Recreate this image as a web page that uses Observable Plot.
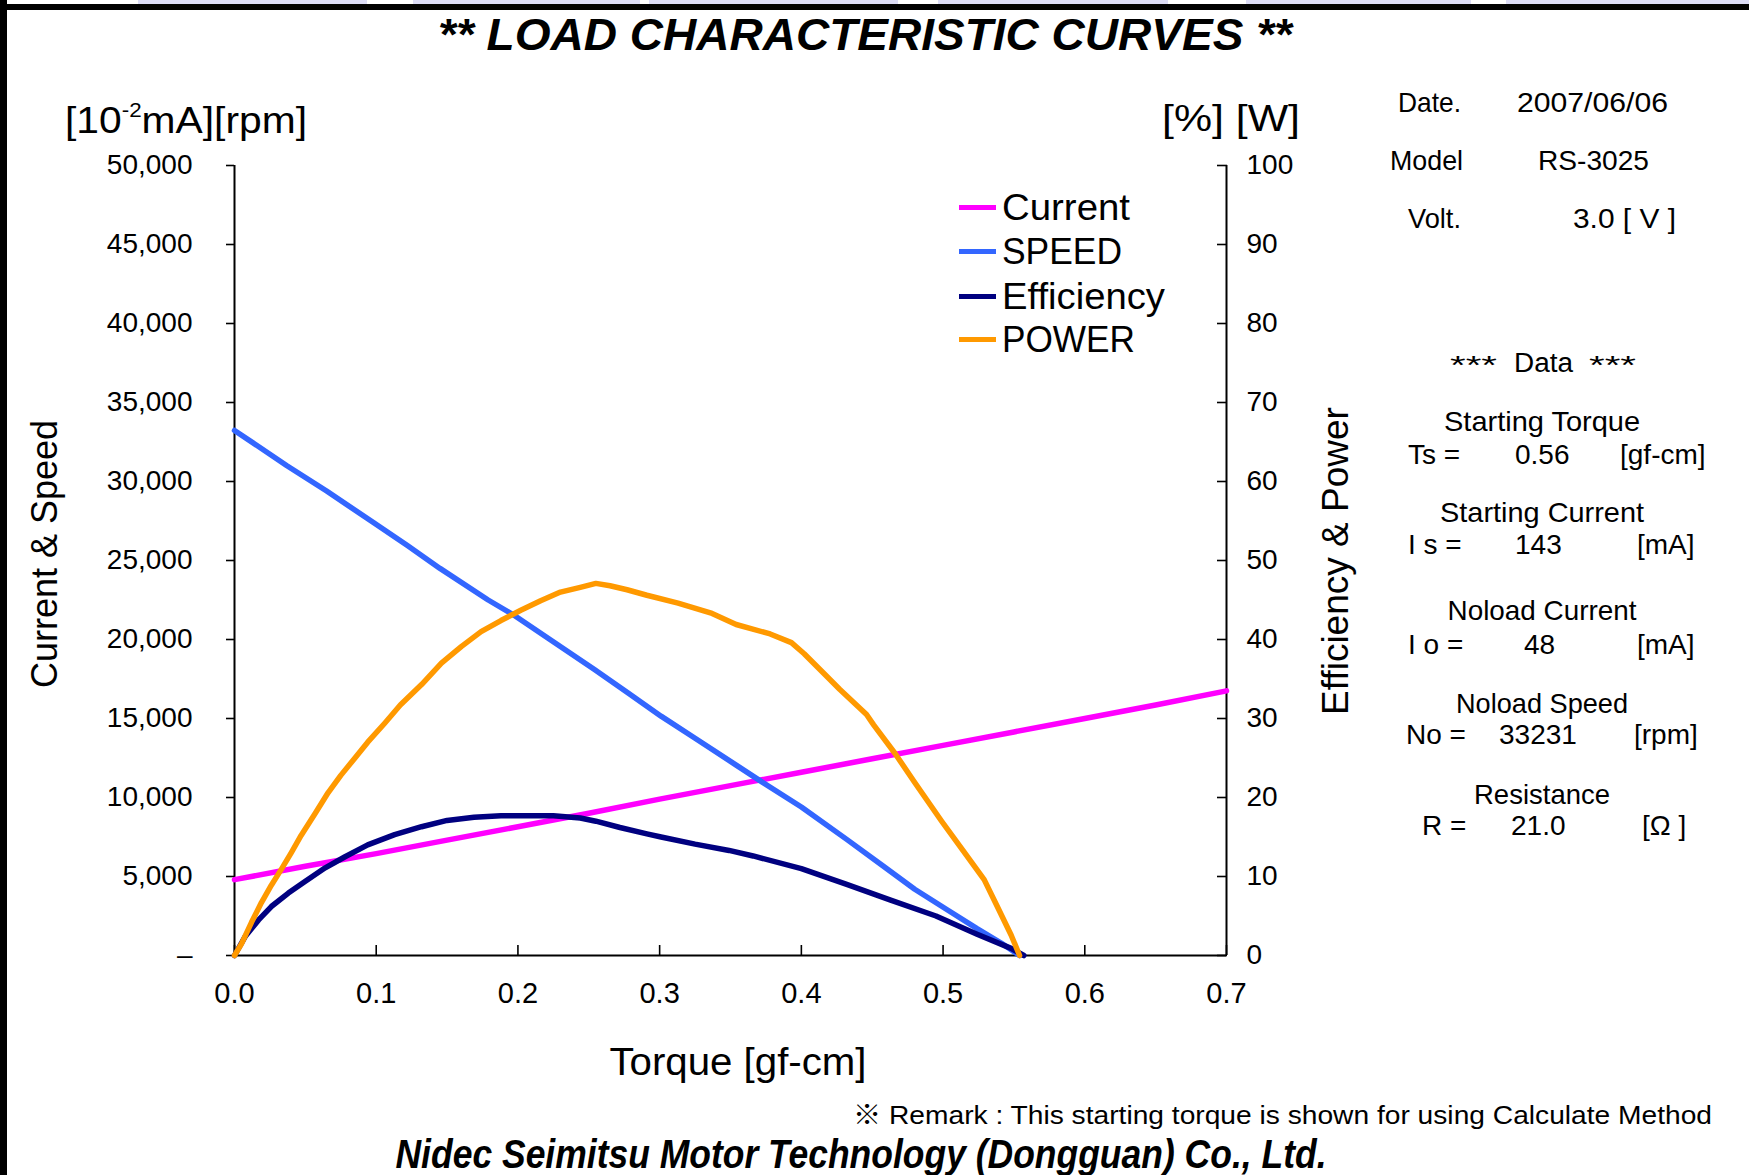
<!DOCTYPE html>
<html>
<head>
<meta charset="utf-8">
<script src="https://cdn.jsdelivr.net/npm/d3@7"></script>
<script src="https://cdn.jsdelivr.net/npm/@observablehq/plot@0.6"></script>
<style>
html, body { margin: 0; padding: 0; background: #fff; }
#wrap { position: relative; width: 1749px; height: 1175px; overflow: hidden; background: #fff; color: #000; }
.t { position: absolute; white-space: nowrap; line-height: 1; }
.deco { position: absolute; }
</style>
</head>
<body>
<div id="wrap"></div>
<script>
// ---------------- data ----------------
const xTicks = [0, 0.1, 0.2, 0.3, 0.4, 0.5, 0.6, 0.7];
const leftTicks = [0, 5000, 10000, 15000, 20000, 25000, 30000, 35000, 40000, 45000, 50000];
const rightTicks = [0, 10, 20, 30, 40, 50, 60, 70, 80, 90, 100];

const seriesNames = ["Current", "SPEED", "Efficiency", "POWER"];
const seriesColors = ["#ff00ff", "#3366ff", "#000080", "#ff9900"];

// Current [10^-2 mA] vs torque [gf-cm]
const currentTorque = [0, 0.05, 0.10, 0.15, 0.20, 0.25, 0.30, 0.35, 0.40, 0.45, 0.50, 0.55, 0.60, 0.65, 0.70];
const currentValue  = [4800, 5650, 6450, 7300, 8150, 9000, 9900, 10750, 11600, 12450, 13300, 14150, 15000, 15850, 16750];

// Speed [rpm]
const speedTorque = [0, 0.037, 0.065, 0.098, 0.122, 0.145, 0.179, 0.197, 0.226, 0.254, 0.278, 0.301, 0.325, 0.354, 0.371, 0.400, 0.432, 0.456, 0.480, 0.504, 0.524, 0.541, 0.554];
const speedValue  = [33231, 31000, 29400, 27400, 25950, 24500, 22500, 21550, 19800, 18100, 16600, 15150, 13750, 12050, 11050, 9400, 7350, 5770, 4190, 2830, 1700, 790, 0];

// Efficiency [%]
const effTorque = [0, 0.0075, 0.017, 0.026, 0.038, 0.050, 0.064, 0.078, 0.094, 0.113, 0.132, 0.150, 0.169, 0.188, 0.206, 0.225, 0.244, 0.255, 0.272, 0.291, 0.301, 0.325, 0.349, 0.366, 0.400, 0.432, 0.463, 0.495, 0.524, 0.548, 0.557];
const effValue  = [0, 2.4, 4.5, 6.2, 7.9, 9.4, 11.1, 12.5, 14.0, 15.3, 16.3, 17.1, 17.5, 17.7, 17.7, 17.7, 17.4, 17.0, 16.2, 15.4, 15.0, 14.1, 13.3, 12.6, 11.0, 9.0, 7.0, 5.0, 2.7, 0.9, 0];

// Power (right axis units)
const powerTorque = [0, 0.005, 0.012, 0.019, 0.026, 0.033, 0.040, 0.047, 0.057, 0.066, 0.075, 0.085, 0.094, 0.106, 0.117, 0.132, 0.146, 0.160, 0.174, 0.188, 0.202, 0.216, 0.230, 0.244, 0.255, 0.265, 0.277, 0.291, 0.313, 0.337, 0.354, 0.378, 0.393, 0.402, 0.417, 0.427, 0.446, 0.451, 0.466, 0.480, 0.499, 0.514, 0.529, 0.538, 0.548, 0.554];
const powerValue  = [0, 1.5, 4.2, 6.7, 8.9, 10.9, 13.0, 15.2, 18.0, 20.6, 22.8, 25.0, 27.0, 29.4, 31.7, 34.3, 37.0, 39.1, 41.0, 42.4, 43.7, 44.9, 46.0, 46.6, 47.1, 46.8, 46.3, 45.6, 44.6, 43.3, 41.9, 40.7, 39.6, 38.2, 35.5, 33.7, 30.5, 29.2, 25.6, 21.9, 17.0, 13.3, 9.6, 6.3, 2.6, 0];

const infoLabels = ["Date.", "Model", "Volt."];
const infoValues = ["2007/06/06", "RS-3025", "3.0 [ V ]"];

// ---------------- chart ----------------
const RIGHT_K = 500; // right axis (0–100) drawn on the left scale (0–50,000)
const FONT = "'Liberation Sans', Arial, 'Noto Sans CJK JP', sans-serif";
const NARROW = "'Liberation Sans Narrow', 'Liberation Sans', Arial, sans-serif";

const rows = (xs, ys) => xs.map((t, i) => ({t, v: ys[i]}));
const currentRows = rows(currentTorque, currentValue);
const speedRows = rows(speedTorque, speedValue);
const effRows = rows(effTorque, effValue);
const powerRows = rows(powerTorque, powerValue);

const W = 1749, H = 1175;
const frame = {left: 234, right: 1226, top: 165, bottom: 955};
const LW = 5.5;

const chart = Plot.plot({
  width: W, height: H,
  marginLeft: frame.left, marginRight: W - frame.right,
  marginTop: frame.top, marginBottom: H - frame.bottom,
  style: {fontFamily: FONT, background: "transparent", color: "#000", overflow: "visible"},
  x: {domain: [0, 0.7]},
  y: {domain: [0, 50000]},
  marks: [
    Plot.axisY({ticks: leftTicks, tickFormat: d => d === 0 ? "–" : d3.format(",")(d),
      tickSize: 8, tickPadding: 34, label: null, fontSize: 28, fontFamily: FONT, strokeWidth: 1.6}),
    Plot.axisY({anchor: "right", ticks: rightTicks.map(v => v * RIGHT_K), tickFormat: d => String(d / RIGHT_K),
      tickSize: -10, tickPadding: 30, label: null, fontSize: 28, fontFamily: FONT, strokeWidth: 1.6}),
    Plot.axisX({ticks: xTicks, tickFormat: d => d.toFixed(1),
      tickSize: -10, tickPadding: 37, label: null, fontSize: 29, fontFamily: NARROW, strokeWidth: 1.6}),
    Plot.ruleX([0, 0.7], {strokeWidth: 2}),
    Plot.ruleY([0], {strokeWidth: 2}),
    Plot.line(currentRows, {x: "t", y: "v", stroke: seriesColors[0], strokeWidth: LW}),
    Plot.line(speedRows, {x: "t", y: "v", stroke: seriesColors[1], strokeWidth: LW}),
    Plot.line(effRows, {x: "t", y: d => d.v * RIGHT_K, stroke: seriesColors[2], strokeWidth: LW}),
    Plot.line(powerRows, {x: "t", y: d => d.v * RIGHT_K, stroke: seriesColors[3], strokeWidth: LW})
  ]
});
const wrap = document.getElementById("wrap");
chart.style.position = "absolute";
chart.style.left = "0px";
chart.style.top = "0px";
wrap.appendChild(chart);

// ---------------- text helpers ----------------
function label(html, x, y, o = {}) {
  const el = document.createElement("div");
  el.className = "t";
  el.innerHTML = html;
  el.style.left = x + "px";
  el.style.top = y + "px";
  el.style.fontSize = (o.size || 28) + "px";
  el.style.fontFamily = o.family || FONT;
  el.style.fontWeight = o.weight || "normal";
  el.style.fontStyle = o.style || "normal";
  wrap.appendChild(el);
  const w = el.getBoundingClientRect().width;
  const sx = o.width ? o.width / w : 1;
  const anchor = o.anchor || "start";
  const ax = anchor === "middle" ? -50 : anchor === "end" ? -100 : 0;
  el.style.transformOrigin = anchor === "middle" ? "50% 50%" : anchor === "end" ? "100% 50%" : "0% 50%";
  const rot = o.rotate ? ` rotate(${o.rotate}deg)` : "";
  el.style.transform = `translate(${ax}%, -50%)${rot} scaleX(${sx})`;
  return el;
}
function box(x, y, w, h, color) {
  const d = document.createElement("div");
  d.className = "deco";
  Object.assign(d.style, {left: x + "px", top: y + "px", width: w + "px", height: h + "px", background: color});
  wrap.appendChild(d);
}

// frame decoration (spreadsheet border)
[[138, 367], [413, 640], [649, 898], [938, 1168], [1246, 1471], [1506, 1749]].forEach(([a, b]) => box(a, 0, b - a, 4, "#dcdcf6"));
box(0, 4, W, 6, "#000");
box(0, 0, 7, H, "#000");

// title / footer
label("** LOAD CHARACTERISTIC CURVES **", 865, 35, {size: 44, weight: "bold", style: "italic", anchor: "middle", width: 854});
label("Nidec Seimitsu Motor Technology (Dongguan) Co., Ltd.", 861, 1154, {size: 40, weight: "bold", style: "italic", anchor: "middle", width: 931});
label("※ Remark : This starting torque is shown for using Calculate Method", 853, 1115, {size: 26, width: 859});

// axis titles
label('[10<span style="font-size:0.55em;position:relative;top:-0.8em">-2</span>mA][rpm]', 65, 121, {size: 36, width: 242});
label("[%] [W]", 1162, 119, {size: 36, width: 138});
label("Current &amp; Speed", 45, 554, {size: 36, anchor: "middle", rotate: -90});
label("Efficiency &amp; Power", 1335, 561, {size: 37, anchor: "middle", rotate: -90});
label("Torque [gf-cm]", 738, 1062, {size: 38, anchor: "middle", width: 257});

// legend
const legendY = [207, 251, 296, 339];
const legendW = [128, 120, 163, 133];
seriesNames.forEach((n, i) => {
  box(959, legendY[i] - 2.5, 37, 5, seriesColors[i]);
  label(n, 1002, legendY[i], {size: 37, width: legendW[i]});
});

// info block
const infoY = [103, 161, 219];
const infoLX = [[1398, 63], [1390, 73], [1408, 53]];
const infoVX = [[1517, 151], [1538, 111], [1573, 103]];
infoLabels.forEach((s, i) => label(s, infoLX[i][0], infoY[i], {size: 28, width: infoLX[i][1]}));
infoValues.forEach((s, i) => label(s, infoVX[i][0], infoY[i], {size: 28, width: infoVX[i][1]}));

// data block
label("***", 1450, 365, {size: 26, width: 47});
label("Data", 1514, 363, {size: 27, width: 59});
label("***", 1589, 365, {size: 26, width: 47});

const dataHeads = ["Starting Torque", "Starting Current", "Noload Current", "Noload Speed", "Resistance"];
const dataSyms = ["Ts =", "I s =", "I o =", "No =", "R ="];
const dataVals = ["0.56", "143", "48", "33231", "21.0"];
const dataUnits = ["[gf-cm]", "[mA]", "[mA]", "[rpm]", "[Ω ]"];
const headY = [422, 513, 611, 704, 795];
const headW = [196, 204, 189, 172, 136];
const rowY = [455, 545, 645, 735, 826];
const symX = [1408, 1408, 1408, 1406, 1422];
const valX = [1515, 1515, 1524, 1499, 1511];
const unitX = [1620, 1637, 1637, 1634, 1642];
dataHeads.forEach((s, i) => {
  label(s, 1542, headY[i], {size: 28, anchor: "middle", width: headW[i]});
  label(dataSyms[i], symX[i], rowY[i], {size: 28});
  label(dataVals[i], valX[i], rowY[i], {size: 28});
  label(dataUnits[i], unitX[i], rowY[i], {size: 28});
});
</script>
</body>
</html>
